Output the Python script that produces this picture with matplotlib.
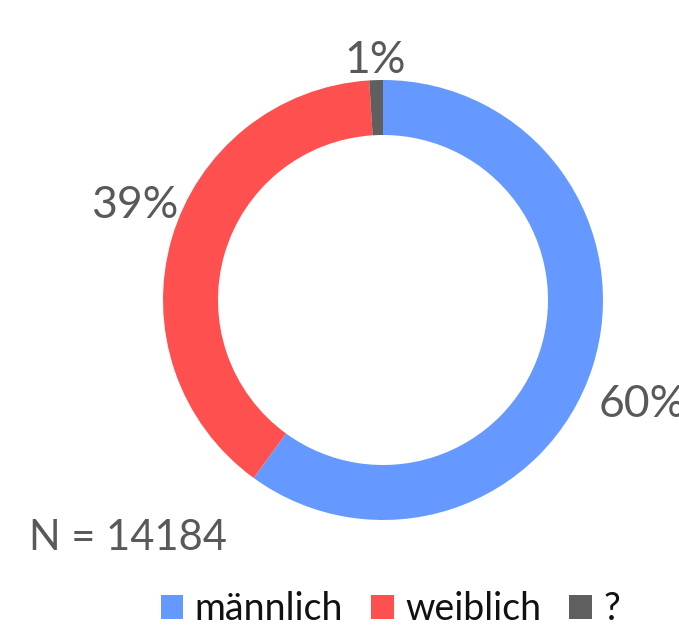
import matplotlib.pyplot as plt
import numpy as np

labels = ['männlich', 'weiblich', '?']
values = [60, 39, 1]
colors = ['#6699FF', '#FF5050', '#5F5F5F']
# label placement: distance (in radii) and angular shift from wedge middle
label_dist = [1.27, 1.21, 1.09]
label_shift = [-4.0, -4.7, 0.0]
n_total = 14184

plt.rcParams['font.family'] = ['Lato', 'DejaVu Sans']

fig = plt.figure(figsize=(6.79, 6.31), dpi=100)
ax = fig.add_axes([0, 0, 1, 1])

cx, cy, r = 383, 331, 220
wedges, _ = ax.pie(values, colors=colors, startangle=90, counterclock=False,
                   center=(cx, cy), radius=r, frame=True,
                   wedgeprops=dict(width=55, edgecolor='white', linewidth=0))
ax.set_xlim(0, 679)
ax.set_ylim(0, 631)
ax.set_aspect('equal')
ax.axis('off')

total = sum(values)
for w, v, d, s in zip(wedges, values, label_dist, label_shift):
    ang = np.deg2rad((w.theta1 + w.theta2) / 2 + s)
    x = cx + r * d * np.cos(ang)
    y = cy + r * d * np.sin(ang)
    ax.text(x, y, f'{v / total * 100:.0f}%', ha='center', va='center',
            fontsize=32, color='#595959')

ax.text(29, 93, f'N = {n_total}', fontsize=30, color='#595959', va='center')

leg = fig.legend(wedges, labels, loc='lower center', ncol=3,
                 bbox_to_anchor=(0.575, -0.047), frameon=False,
                 fontsize=27, handlelength=0.6, handleheight=0.6,
                 handletextpad=0.3, columnspacing=0.75)
for t in leg.get_texts():
    t.set_color('#111111')

fig.savefig('out.png', dpi=100)
